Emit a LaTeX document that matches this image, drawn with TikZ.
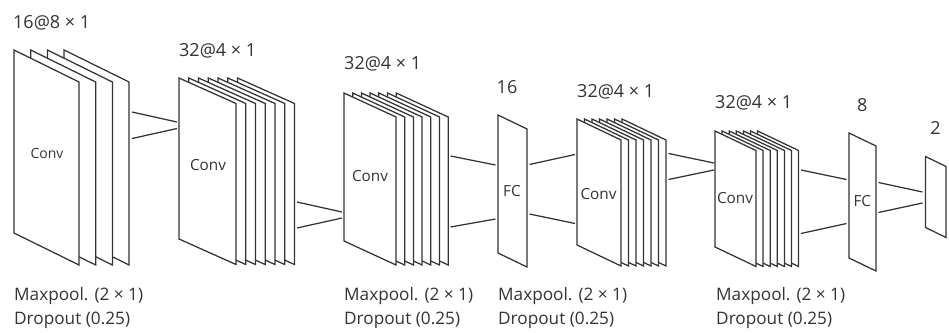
\documentclass[tikz,border=0pt]{standalone}
\usepackage{fontspec}
\setmainfont{Open Sans}
\definecolor{ink}{HTML}{333333}
\tikzset{
  sheet/.style={draw=ink, line width=1.25pt, fill=white, line join=miter},
  link/.style={draw=ink, line width=1.25pt},
  lbl/.style={anchor=base west, inner sep=0pt, text=ink, font=\fontsize{18}{21}\selectfont},
  numlbl/.style={anchor=base, inner sep=0pt, text=ink, font=\fontsize{18}{21}\selectfont},
  inlbl/.style={anchor=center, inner sep=0pt, text=ink, font=\fontsize{15.3}{18}\selectfont},
  notelbl/.style={anchor=base west, inner sep=0pt, text=ink, font=\fontsize{17.2}{20}\selectfont},
}
% #1 x, #2 y, #3 w, #4 h, #5 dy, #6 n, #7 dx
\newcommand\sheetstack[7]{%
  \pgfmathtruncatemacro\nlast{#6-1}%
  \foreach \i in {\nlast,...,0}{%
    \draw[sheet] ({#1+\i*#7},#2) -- ++(#3,#5) -- ++(0,#4) -- ++(-#3,-#5) -- cycle;
  }%
}
\begin{document}
\begin{tikzpicture}[x=1pt,y=-1pt]
\useasboundingbox (0,0) rectangle (949,332);

% layers
\sheetstack{14}{50}{65}{183}{32}{4}{16.7}
\sheetstack{179}{78}{57}{161}{25.5}{7}{9.75}
\sheetstack{344}{93}{52}{148}{24}{7}{8.7}
\sheetstack{498}{115}{29}{138}{14}{1}{0}
\sheetstack{577}{119}{44}{126}{21}{7}{7.5}
\sheetstack{715}{131}{41}{116}{19.5}{7}{7.1}
\sheetstack{849}{133}{27}{125}{13}{1}{0}
\sheetstack{925.5}{156.5}{20.5}{71}{10}{1}{0}

% inner labels
\node[inlbl, font=\fontsize{14}{17}\selectfont] (c1) at (47,153) {Conv};
\node[inlbl] (c2) at (208,165) {Conv};
\node[inlbl] (c3) at (370,176.5) {Conv};
\node[inlbl] (f1) at (512,191) {FC};
\node[inlbl] (c4) at (598.5,194) {Conv};
\node[inlbl] (c5) at (735,198) {Conv};
\node[inlbl] (f2) at (862.3,201.5) {FC};

% top labels
\node[lbl] (t1) at (13,28.5) {16@8 × 1};
\node[lbl] (t2) at (179,56.5) {32@4 × 1};
\node[lbl] (t3) at (344,69.5) {32@4 × 1};
\node[numlbl] (t4) at (507,93.5) {16};
\node[lbl] (t5) at (577,97.5) {32@4 × 1};
\node[lbl] (t6) at (715,108.5) {32@4 × 1};
\node[numlbl] (t7) at (862.3,111.5) {8};
\node[numlbl] (t8) at (935.5,134) {2};

% bottom notes
\node[notelbl] (n1a) at (14,300.5) {Maxpool. (2 × 1)};
\node[notelbl] (n1b) at (14,324) {Dropout (0.25)};
\node[notelbl] (n2a) at (344,300.5) {Maxpool. (2 × 1)};
\node[notelbl] (n2b) at (344,324) {Dropout (0.25)};
\node[notelbl] (n3a) at (498,300.5) {Maxpool. (2 × 1)};
\node[notelbl] (n3b) at (498,324) {Dropout (0.25)};
\node[notelbl] (n4a) at (716,300.5) {Maxpool. (2 × 1)};
\node[notelbl] (n4b) at (716,324) {Dropout (0.25)};

% connector end points
\coordinate (a1) at (132,112);   \coordinate (a2) at (132,138.5);
\coordinate (b1) at (177,122);   \coordinate (b2) at (177,128.5);
\coordinate (a3) at (297,202);   \coordinate (a4) at (297,228);
\coordinate (b3) at (342,212);   \coordinate (b4) at (342,218);
\coordinate (a5) at (450.5,156); \coordinate (a6) at (450.5,227);
\coordinate (b5) at (495.5,165); \coordinate (b6) at (495.5,219);
\coordinate (a7) at (529.5,164.5); \coordinate (a8) at (529.5,214);
\coordinate (b7) at (575,154.5); \coordinate (b8) at (575,223.5);
\coordinate (a9) at (668.5,153.5); \coordinate (a10) at (668.5,179.5);
\coordinate (b9) at (714,163);   \coordinate (b10) at (714,170);
\coordinate (a11) at (801,170);  \coordinate (a12) at (801,233.5);
\coordinate (b11) at (846.5,179.5); \coordinate (b12) at (846.5,223.5);
\coordinate (a13) at (878.5,182.5); \coordinate (a14) at (878.5,212.5);
\coordinate (b13) at (922.5,192);   \coordinate (b14) at (922.5,203);

\draw[link] (a1) -- (b1);  \draw[link] (a2) -- (b2);
\draw[link] (a3) -- (b3);  \draw[link] (a4) -- (b4);
\draw[link] (a5) -- (b5);  \draw[link] (a6) -- (b6);
\draw[link] (a7) -- (b7);  \draw[link] (a8) -- (b8);
\draw[link] (a9) -- (b9);  \draw[link] (a10) -- (b10);
\draw[link] (a11) -- (b11); \draw[link] (a12) -- (b12);
\draw[link] (a13) -- (b13); \draw[link] (a14) -- (b14);
\end{tikzpicture}
\end{document}
